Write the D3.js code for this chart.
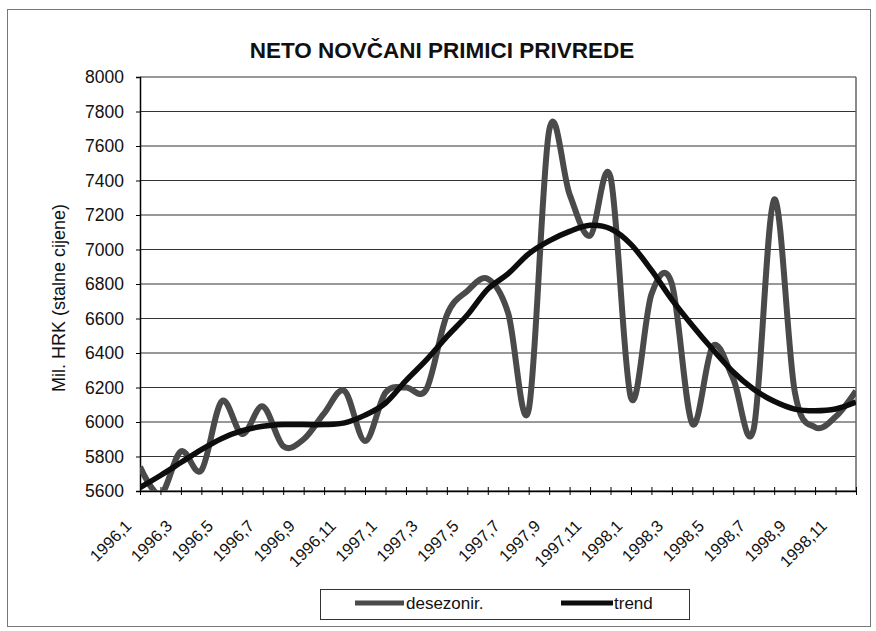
<!DOCTYPE html>
<html>
<head>
<meta charset="utf-8">
<script src="https://cdn.jsdelivr.net/npm/d3@7"></script>
<style>
  body { margin: 0; background: #fff; }
  #chart { width: 876px; height: 631px; }
  text { font-family: Arial, "Liberation Sans", sans-serif; fill: #111; }
</style>
</head>
<body>
<div id="chart"></div>
<script>
// months (category axis)
const months = [
    "1996,1", "1996,2", "1996,3", "1996,4", "1996,5", "1996,6",
    "1996,7", "1996,8", "1996,9", "1996,10", "1996,11", "1996,12",
    "1997,1", "1997,2", "1997,3", "1997,4", "1997,5", "1997,6",
    "1997,7", "1997,8", "1997,9", "1997,10", "1997,11", "1997,12",
    "1998,1", "1998,2", "1998,3", "1998,4", "1998,5", "1998,6",
    "1998,7", "1998,8", "1998,9", "1998,10", "1998,11", "1998,12"
];

// seasonally adjusted series
const desezonir = [
    5740, 5580, 5830, 5720, 6120, 5930,
    6090, 5860, 5900, 6050, 6180, 5890,
    6170, 6200, 6190, 6620, 6760, 6830,
    6630, 6070, 7690, 7320, 7080, 7420,
    6140, 6740, 6800, 5990, 6440, 6250,
    5960, 7290, 6180, 5970, 6030, 6180
];

// trend series
const trend = [
    5620, 5690, 5765, 5840, 5905, 5950,
    5975, 5985, 5985, 5985, 5995, 6040,
    6110, 6240, 6360, 6495, 6620, 6770,
    6860, 6975, 7050, 7105, 7140, 7120,
    7030, 6880, 6710, 6560, 6420, 6290,
    6190, 6120, 6075, 6065, 6075, 6115
];

const yTicks = [5600, 5800, 6000, 6200, 6400, 6600, 6800, 7000, 7200, 7400, 7600, 7800, 8000];

const seriesNames = ["desezonir.", "trend"];

function renderChart(containerSelector) {
    const container = d3.select(containerSelector);
    const width = 876, height = 631;
    const plot = { left: 140, right: 856, top: 77, bottom: 491 };

    const svg = container.append("svg")
        .attr("width", width)
        .attr("height", height);

    // outer frame
    svg.append("rect")
        .attr("x", 7.5).attr("y", 9.5)
        .attr("width", 863).attr("height", 617)
        .attr("fill", "#fff")
        .attr("stroke", "#777").attr("stroke-width", 1);

    const x = d3.scalePoint().domain(months).range([plot.left, plot.right]);
    const y = d3.scaleLinear().domain([5600, 8000]).range([plot.bottom, plot.top]);

    // title
    svg.append("text")
        .attr("x", 442).attr("y", 58)
        .attr("text-anchor", "middle")
        .style("font-size", "22.5px").style("font-weight", "bold")
        .text("NETO NOVČANI PRIMICI PRIVREDE");

    // gridlines
    svg.append("g")
        .selectAll("line")
        .data(yTicks)
        .join("line")
        .attr("x1", plot.left).attr("x2", plot.right)
        .attr("y1", d => y(d)).attr("y2", d => y(d))
        .attr("stroke", "#333").attr("stroke-width", 1.2);

    // plot border (right side)
    svg.append("line")
        .attr("x1", plot.right).attr("x2", plot.right)
        .attr("y1", plot.top).attr("y2", plot.bottom)
        .attr("stroke", "#666").attr("stroke-width", 1.5);

    // y axis
    const yAxis = svg.append("g")
        .attr("transform", `translate(${plot.left},0)`)
        .call(d3.axisLeft(y).tickValues(yTicks).tickSize(4).tickPadding(12).tickFormat(d3.format("d")));
    yAxis.select(".domain").attr("stroke", "#000").attr("stroke-width", 1.5);
    yAxis.selectAll(".tick line").attr("stroke", "#000");
    yAxis.selectAll("text").style("font-size", "17.5px").attr("fill", "#111");

    // x axis
    const xAxis = svg.append("g")
        .attr("transform", `translate(0,${plot.bottom})`)
        .call(d3.axisBottom(x).tickSize(4).tickSizeOuter(0)
            .tickFormat((d, i) => i % 2 === 0 ? d : ""));
    xAxis.select(".domain").attr("stroke", "#000").attr("stroke-width", 1.5);
    xAxis.selectAll(".tick line").attr("y1", -4).attr("y2", 4).attr("stroke", "#000");
    xAxis.selectAll("text")
        .style("font-size", "16.5px").attr("fill", "#111")
        .attr("text-anchor", "end")
        .attr("dy", 0)
        .attr("transform", "translate(-13,31) rotate(-45)");

    // y axis title
    svg.append("text")
        .attr("transform", "translate(65,298) rotate(-90)")
        .attr("text-anchor", "middle")
        .style("font-size", "18px")
        .text("Mil. HRK (stalne cijene)");

    // clip
    svg.append("clipPath").attr("id", "plotclip")
        .append("rect")
        .attr("x", plot.left).attr("y", plot.top)
        .attr("width", plot.right - plot.left).attr("height", plot.bottom - plot.top);

    const line = d3.line()
        .x((d, i) => x(months[i]))
        .y(d => y(d))
        .curve(d3.curveCardinal.tension(0));

    const lines = svg.append("g").attr("clip-path", "url(#plotclip)");

    lines.append("path")
        .datum(desezonir)
        .attr("d", line)
        .attr("fill", "none")
        .attr("stroke", "#4a4a4a")
        .attr("stroke-width", 6)
        .attr("stroke-linejoin", "round");

    lines.append("path")
        .datum(trend)
        .attr("d", line)
        .attr("fill", "none")
        .attr("stroke", "#0d0d0d")
        .attr("stroke-width", 5.5)
        .attr("stroke-linejoin", "round");

    // legend
    const legend = svg.append("g");
    legend.append("rect")
        .attr("x", 320.5).attr("y", 589.5)
        .attr("width", 369).attr("height", 30)
        .attr("fill", "#fff").attr("stroke", "#333").attr("stroke-width", 1);

    const legendItems = [
        { name: seriesNames[0], color: "#4a4a4a", x0: 355, x1: 404, tx: 406 },
        { name: seriesNames[1], color: "#0d0d0d", x0: 561, x1: 613, tx: 614 }
    ];
    legendItems.forEach(d => {
        legend.append("line")
            .attr("x1", d.x0).attr("x2", d.x1)
            .attr("y1", 603).attr("y2", 603)
            .attr("stroke", d.color).attr("stroke-width", 5);
        legend.append("text")
            .attr("x", d.tx).attr("y", 609)
            .style("font-size", "17px")
            .text(d.name);
    });
}

renderChart("#chart");
</script>
</body>
</html>
